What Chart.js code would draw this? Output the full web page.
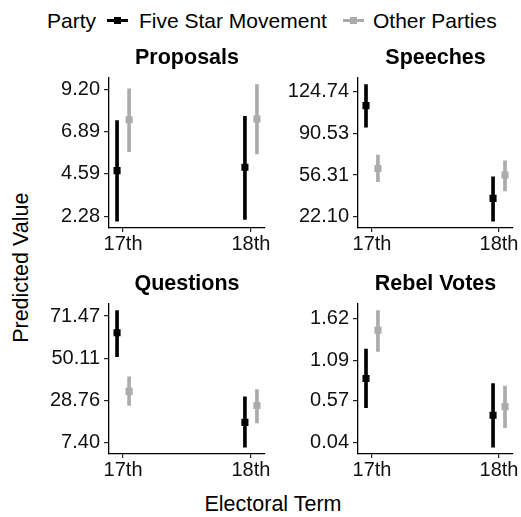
<!DOCTYPE html>
<html>
<head>
<meta charset="utf-8">
<script src="https://cdn.jsdelivr.net/npm/chart.js@4.4.1/dist/chart.umd.min.js"></script>
<style>
  body { margin: 0; background: #fff; width: 521px; height: 517px; position: relative; overflow: hidden;
         font-family: 'Liberation Sans', Arial, sans-serif; color: #000; }
  canvas { position: absolute; }
  .txt { position: absolute; white-space: nowrap; font-size: 21px; line-height: 1; }
  .key { position: absolute; top: 19px; width: 21px; height: 3px; }
  .key i { position: absolute; left: 7px; top: -2px; width: 7px; height: 7px; background: inherit; }
</style>
</head>
<body>
<div class="txt" style="left:47px; top:10px;">Party</div>
<div class="key" style="left:107px; background:#000;"><i></i></div>
<div class="txt" style="left:139px; top:10px;">Five Star Movement</div>
<div class="key" style="left:343px; background:#ababab;"><i></i></div>
<div class="txt" style="left:373px; top:10px;">Other Parties</div>
<div class="txt" style="left:-78px; top:257px; width:200px; text-align:center; font-size:21.5px; transform:rotate(-90deg);">Predicted Value</div>
<div class="txt" style="left:173px; top:494px; width:200px; text-align:center; font-size:21.5px;">Electoral Term</div>

<canvas id="proposals" width="245" height="218" style="left:40px; top:40px;"></canvas>
<canvas id="speeches" width="241" height="218" style="left:280px; top:40px;"></canvas>
<canvas id="questions" width="245" height="218" style="left:40px; top:266px;"></canvas>
<canvas id="rebels" width="241" height="218" style="left:280px; top:266px;"></canvas>

<script>
// categories
const terms = ['17th', '18th'];
const termPos = [1, 2];
const parties = ['Five Star Movement', 'Other Parties'];
const partyColors = ['#000000', '#ababab'];

// Proposals
const proposalsFsmEst = [4.77, 4.96];
const proposalsFsmLo  = [2.01, 2.10];
const proposalsFsmHi  = [7.50, 7.74];
const proposalsOthEst = [7.55, 7.59];
const proposalsOthLo  = [5.81, 5.68];
const proposalsOthHi  = [9.24, 9.47];
const proposalsTicks  = [2.28, 4.59, 6.89, 9.20];

// Speeches
const speechesFsmEst = [113.2, 37.2];
const speechesFsmLo  = [95.5, 18.5];
const speechesFsmHi  = [130.4, 54.9];
const speechesOthEst = [61.7, 56.3];
const speechesOthLo  = [50.8, 43.2];
const speechesOthHi  = [72.7, 68.0];
const speechesTicks  = [22.10, 56.31, 90.53, 124.74];

// Questions
const questionsFsmEst = [63.0, 17.6];
const questionsFsmLo  = [50.9, 5.06];
const questionsFsmHi  = [74.2, 30.5];
const questionsOthEst = [33.3, 26.2];
const questionsOthLo  = [26.2, 17.3];
const questionsOthHi  = [40.7, 34.2];
const questionsTicks  = [7.40, 28.76, 50.11, 71.47];

// Rebel votes
const rebelsFsmEst = [0.856, 0.388];
const rebelsFsmLo  = [0.485, -0.018];
const rebelsFsmHi  = [1.23, 0.79];
const rebelsOthEst = [1.47, 0.498];
const rebelsOthLo  = [1.20, 0.23];
const rebelsOthHi  = [1.72, 0.76];
const rebelsTicks  = [0.04, 0.57, 1.09, 1.62];

const FONT = "'Liberation Sans', Arial, sans-serif";
const dodge = [-0.047, 0.047];

function panel(id, title, series, ticks, yWidth, padRight) {
  const all = series.flatMap(s => s.lo.concat(s.hi));
  const lo = Math.min(...all), hi = Math.max(...all), pad = (hi - lo) * 0.05;
  const datasets = [];
  series.forEach((s, k) => {
    datasets.push({
      type: 'bar', label: parties[k], order: 2, grouped: false,
      data: termPos.map((p, i) => ({ x: p + dodge[k], y: [s.lo[i], s.hi[i]] })),
      backgroundColor: partyColors[k], barThickness: 3, borderWidth: 0
    });
    datasets.push({
      type: 'scatter', label: parties[k], order: 1,
      data: termPos.map((p, i) => ({ x: p + dodge[k], y: s.est[i] })),
      pointStyle: 'rect', pointRadius: 5, backgroundColor: partyColors[k], borderWidth: 0
    });
  });

  new Chart(document.getElementById(id), {
    type: 'bar',
    data: { datasets },
    options: {
      responsive: false, animation: false,
      layout: { padding: { right: padRight, left: 0, top: 0, bottom: 0 } },
      plugins: {
        legend: { display: false }, tooltip: { enabled: false },
        title: { display: true, text: title, fullSize: false, color: '#000',
                 font: { family: FONT, size: 21.5, weight: 'bold', lineHeight: 1.2 },
                 padding: { top: 5, bottom: 7 } }
      },
      scales: {
        x: {
          type: 'linear', min: 0.89, max: 2.11, offset: false,
          afterBuildTicks: a => { a.ticks = termPos.map(v => ({ value: v })); },
          afterFit: s => { s.height = 30; },
          ticks: { callback: v => terms[termPos.indexOf(v)], color: '#111', padding: 0,
                   maxRotation: 0, font: { family: FONT, size: 20 } },
          grid: { drawOnChartArea: false, offset: false, tickLength: 4, color: '#222', lineWidth: 1.2 },
          border: { display: true, color: '#000', width: 1.3 }
        },
        y: {
          type: 'linear', min: lo - pad, max: hi + pad,
          afterBuildTicks: a => { a.ticks = ticks.map(v => ({ value: v })); },
          afterFit: s => { s.width = yWidth; },
          ticks: { callback: v => v.toFixed(2), color: '#111', padding: 4,
                   font: { family: FONT, size: 20 } },
          grid: { drawOnChartArea: false, tickLength: 5, color: '#222', lineWidth: 1.2 },
          border: { display: true, color: '#000', width: 1.3 }
        }
      }
    }
  });
}

panel('proposals', 'Proposals', [
  { est: proposalsFsmEst, lo: proposalsFsmLo, hi: proposalsFsmHi },
  { est: proposalsOthEst, lo: proposalsOthLo, hi: proposalsOthHi }
], proposalsTicks, 69, 20);

panel('speeches', 'Speeches', [
  { est: speechesFsmEst, lo: speechesFsmLo, hi: speechesFsmHi },
  { est: speechesOthEst, lo: speechesOthLo, hi: speechesOthHi }
], speechesTicks, 78, 8);

panel('questions', 'Questions', [
  { est: questionsFsmEst, lo: questionsFsmLo, hi: questionsFsmHi },
  { est: questionsOthEst, lo: questionsOthLo, hi: questionsOthHi }
], questionsTicks, 69, 20);

panel('rebels', 'Rebel Votes', [
  { est: rebelsFsmEst, lo: rebelsFsmLo, hi: rebelsFsmHi },
  { est: rebelsOthEst, lo: rebelsOthLo, hi: rebelsOthHi }
], rebelsTicks, 78, 8);
</script>
</body>
</html>
